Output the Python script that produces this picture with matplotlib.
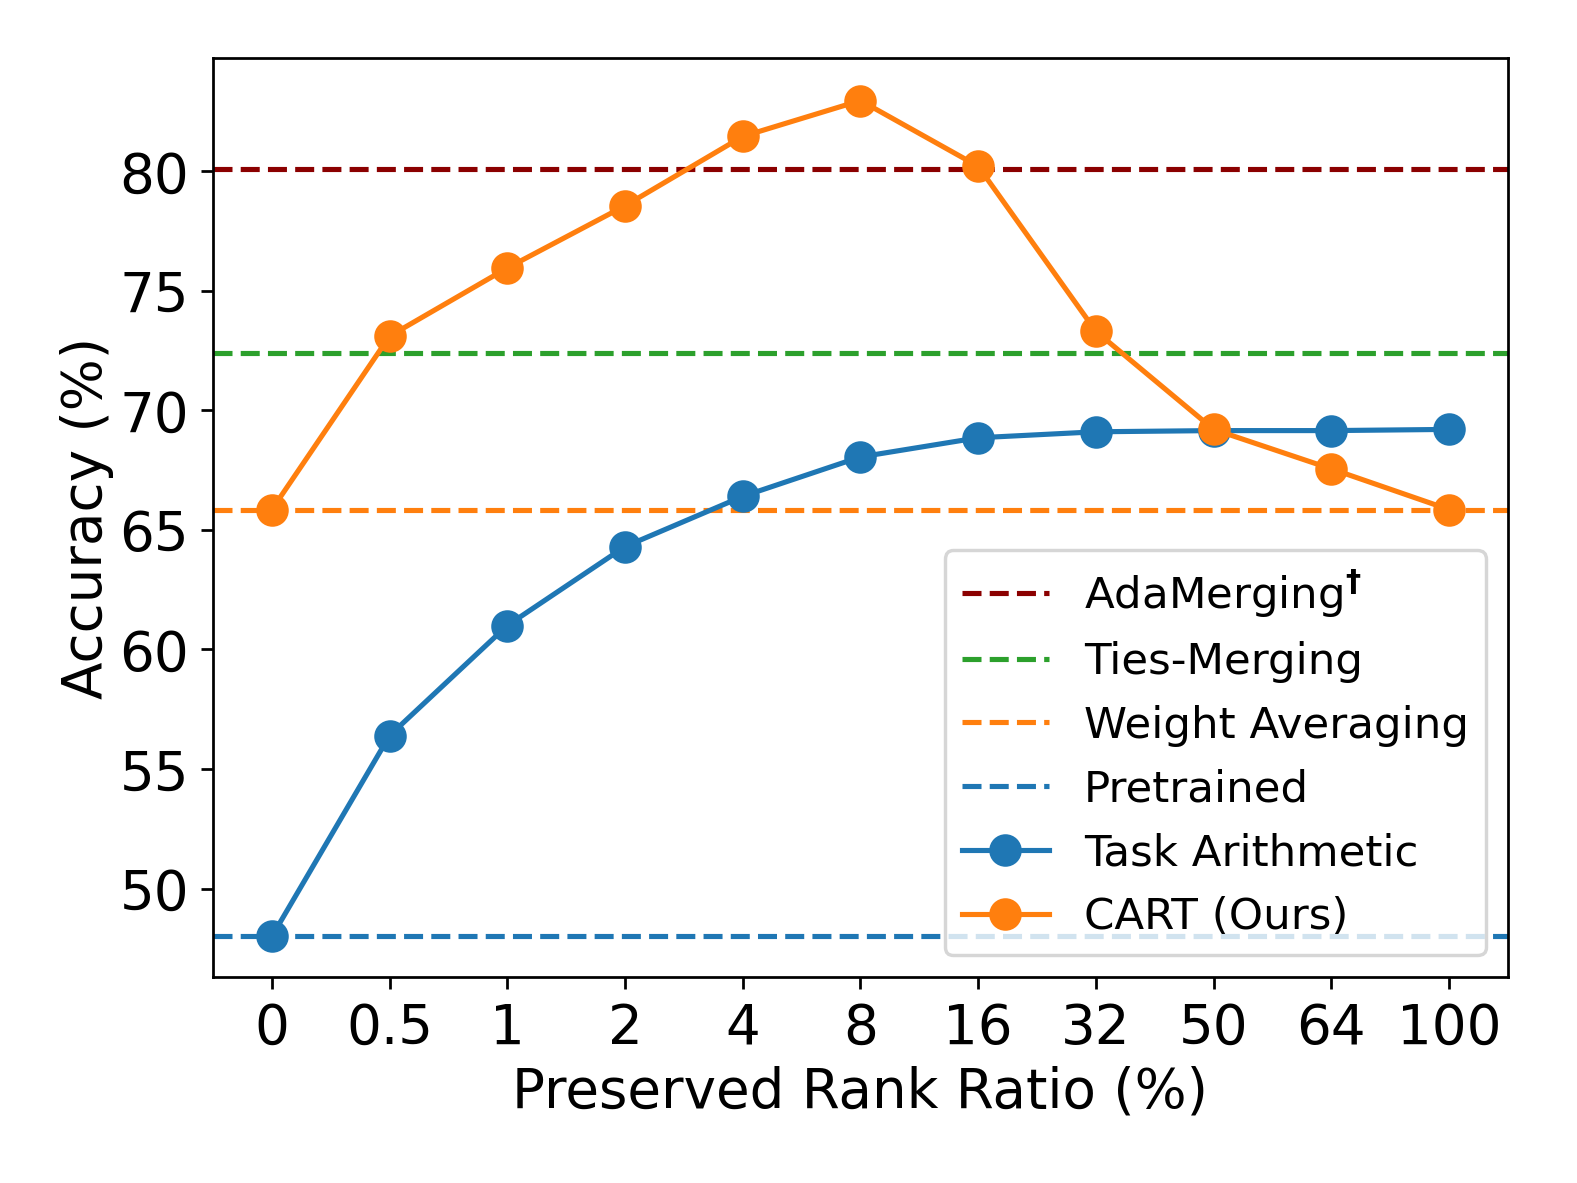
import matplotlib
matplotlib.use("Agg")
import matplotlib.pyplot as plt

# preserved rank ratio (%) tick labels
ratios = ["0", "0.5", "1", "2", "4", "8", "16", "32", "50", "64", "100"]

task_arith = [48.0, 56.4, 61.0, 64.3, 66.4, 68.05, 68.85, 69.1, 69.15, 69.15, 69.2]
cart = [65.85, 73.1, 75.95, 78.55, 81.45, 82.95, 80.2, 73.3, 69.2, 67.55, 65.85]

adamerging = 80.1
ties_merging = 72.4
weight_avg = 65.85
pretrained = 48.0

fig = plt.figure(figsize=(6.4, 4.8), dpi=246.56)
ax = fig.add_axes([0.135, 0.174, 0.8206, 0.777])

x = list(range(len(ratios)))

ax.axhline(adamerging, color="darkred", linestyle="--", lw=1.5, label="AdaMerging$^{\\mathbf{†}}$")
ax.axhline(ties_merging, color="tab:green", linestyle="--", lw=1.5, label="Ties-Merging")
ax.axhline(weight_avg, color="tab:orange", linestyle="--", lw=1.5, label="Weight Averaging")
ax.axhline(pretrained, color="tab:blue", linestyle="--", lw=1.5, label="Pretrained")
ax.plot(x, task_arith, marker="o", markersize=8.5, lw=1.5, color="tab:blue", label="Task Arithmetic")
ax.plot(x, cart, marker="o", markersize=8.5, lw=1.5, color="tab:orange", label="CART (Ours)")

ax.set_xlim(-0.5, 10.5)
ax.set_ylim(46.3, 84.75)
ax.set_xticks(x)
ax.set_xticklabels(ratios)
ax.set_yticks([50, 55, 60, 65, 70, 75, 80])
ax.tick_params(labelsize=16)
ax.set_xlabel("Preserved Rank Ratio (%)", fontsize=16, labelpad=3)
ax.set_ylabel("Accuracy (%)", fontsize=16, labelpad=1.5)
ax.legend(loc="lower right", fontsize=12.7)

fig.savefig("out.png", dpi=246.56)
